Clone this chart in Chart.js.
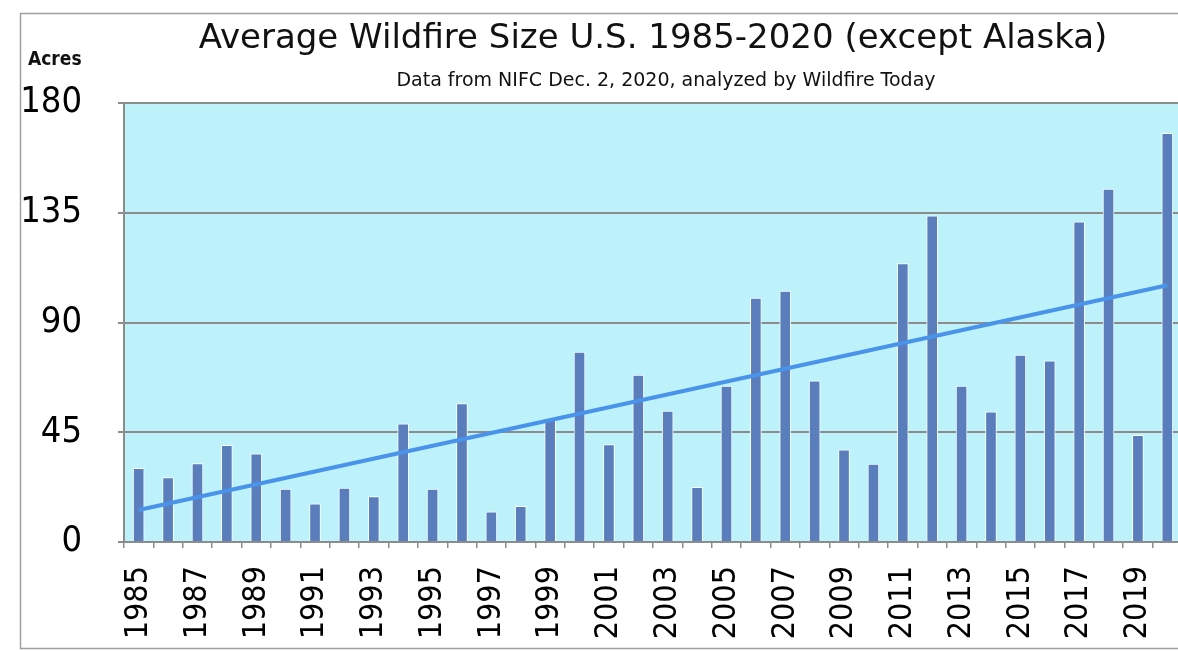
<!DOCTYPE html>
<html>
<head>
  <title>Average Wildfire Size</title>
  <meta name="viewport" content="width=device-width, initial-scale=1">
  <script src="https://cdn.jsdelivr.net/npm/chart.js"></script>
  <style>
    html, body {
      margin: 0;
      padding: 0;
      overflow: hidden;
      background: #fff;
    }

    #chart-container {
      width: 1178px;
      height: 651px;
      overflow: hidden;
    }

    canvas {
      display: block;
    }
  </style>
</head>
<body>

  <div id="chart-container">
    <canvas id="myChart" width="1190" height="651"></canvas>
  </div>

  <script>
    // years 1985..2020
    const years = ['1985', '1986', '1987', '1988', '1989', '1990', '1991', '1992', '1993', '1994',
                   '1995', '1996', '1997', '1998', '1999', '2000', '2001', '2002', '2003', '2004',
                   '2005', '2006', '2007', '2008', '2009', '2010', '2011', '2012', '2013', '2014',
                   '2015', '2016', '2017', '2018', '2019', '2020'];

    // average acres per fire
    const avgAcres = [30.2, 26.4, 32.2, 39.6, 36.2, 21.7, 15.6, 22.1, 18.6, 48.5,
                      21.7, 56.8, 12.4, 14.6, 50.0, 77.9, 39.9, 68.4, 53.7, 22.4,
                      63.9, 100.0, 102.9, 66.1, 37.8, 32.0, 114.2, 133.7, 63.9, 53.4,
                      76.6, 74.3, 131.3, 144.7, 43.7, 167.6];

    // linear trend, start and end values only
    const trendStart = 13.1;
    const trendEnd = 105.3;

    const yTicks = [0, 45, 90, 135, 180];

    const trend = years.map((y, i) => i === 0 ? trendStart : (i === years.length - 1 ? trendEnd : null));

    const narrow = "'DejaVu Sans Condensed', 'DejaVu Sans', sans-serif";
    const wide = "'DejaVu Sans', sans-serif";
    const gridGray = '#8c8c8c';

    const backdrop = {
      id: 'backdrop',
      beforeDraw(chart) {
        const { ctx, chartArea: a } = chart;
        ctx.save();
        ctx.fillStyle = '#fff';
        ctx.fillRect(0, 0, chart.width, chart.height);
        // outer frame, open on the right
        ctx.strokeStyle = '#a0a0a0';
        ctx.lineWidth = 1.5;
        ctx.beginPath();
        ctx.moveTo(chart.width, 13.5);
        ctx.lineTo(20.5, 13.5);
        ctx.lineTo(20.5, 648.5);
        ctx.lineTo(chart.width, 648.5);
        ctx.stroke();
        // plot background
        ctx.fillStyle = '#bdf2fa';
        ctx.fillRect(a.left, a.top, a.right - a.left, a.bottom - a.top);
        ctx.restore();
      }
    };

    const headings = {
      id: 'headings',
      afterDraw(chart) {
        const ctx = chart.ctx;
        ctx.save();
        ctx.fillStyle = '#111';
        ctx.textAlign = 'center';
        ctx.textBaseline = 'alphabetic';
        ctx.font = '34px ' + wide;
        ctx.fillText('Average Wildfire Size U.S. 1985-2020 (except Alaska)', 653, 48);
        ctx.font = '19px ' + wide;
        ctx.fillText('Data from NIFC Dec. 2, 2020, analyzed by Wildfire Today', 666, 86);
        ctx.textAlign = 'left';
        ctx.font = 'bold 19px ' + narrow;
        ctx.fillText('Acres', 28, 65);
        ctx.restore();
      }
    };

    const ctx = document.getElementById('myChart').getContext('2d');
    const chart = new Chart(ctx, {
      type: 'bar',
      data: {
        labels: years,
        datasets: [{
          type: 'line',
          label: 'Trend',
          data: trend,
          borderColor: '#4a93ea',
          borderWidth: 4,
          pointRadius: 0,
          spanGaps: true,
          order: 0
        }, {
          label: 'Average size (acres)',
          data: avgAcres,
          backgroundColor: '#5a7ebb',
          borderColor: 'rgba(255,255,255,0.9)',
          borderWidth: 1,
          barThickness: 11,
          order: 1
        }]
      },
      options: {
        responsive: false,
        animation: false,
        layout: {
          padding: { top: 103, right: 8, left: 0, bottom: 0 }
        },
        plugins: {
          legend: { display: false },
          tooltip: { enabled: false }
        },
        scales: {
          x: {
            afterFit: s => {
              s.height = 109;
              s.paddingLeft = 0;
              s.paddingRight = 0;
            },
            border: { color: gridGray, width: 2 },
            grid: {
              drawOnChartArea: false,
              color: gridGray,
              lineWidth: 1.5,
              tickLength: 6
            },
            ticks: {
              autoSkip: false,
              maxRotation: 90,
              minRotation: 90,
              padding: 18,
              color: '#000',
              font: { family: narrow, size: 32 },
              callback: function (v, i) {
                return i % 2 === 0 ? this.getLabelForValue(v) : '';
              }
            }
          },
          y: {
            min: 0,
            max: 180,
            afterFit: s => {
              s.width = 124;
              s.paddingTop = 0;
              s.paddingBottom = 0;
            },
            afterBuildTicks: s => { s.ticks = yTicks.map(v => ({ value: v })); },
            border: { color: gridGray, width: 2 },
            grid: {
              color: gridGray,
              lineWidth: 2,
              tickLength: 6
            },
            ticks: {
              padding: 36,
              color: '#000',
              font: { family: narrow, size: 36 }
            }
          }
        }
      },
      plugins: [backdrop, headings]
    });
  </script>

</body>
</html>
